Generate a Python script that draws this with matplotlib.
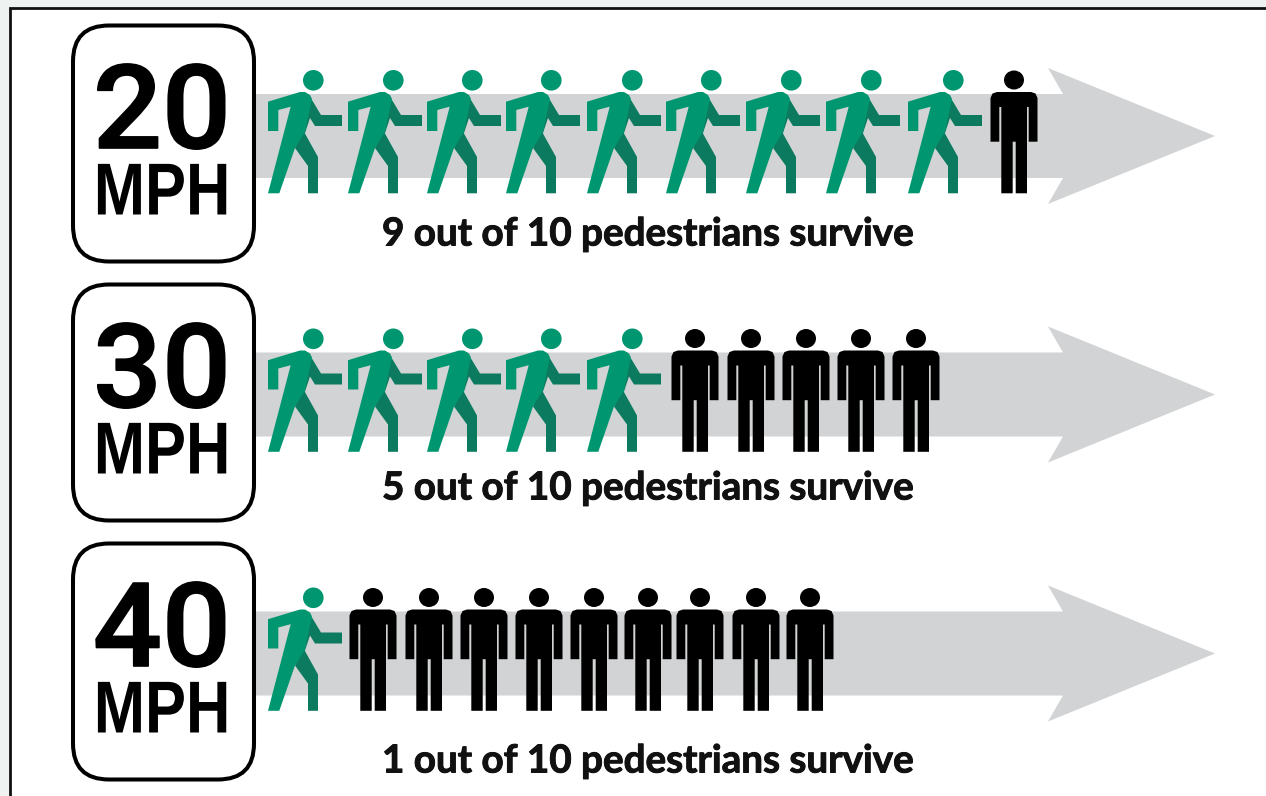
import matplotlib
matplotlib.use("Agg")
import matplotlib.pyplot as plt
import matplotlib.patheffects as pe
from matplotlib.patches import Circle, Ellipse, FancyBboxPatch, Polygon, Rectangle
from matplotlib.transforms import Affine2D

speeds = ["20", "30", "40"]
captions = ["9 out of 10 pedestrians survive",
            "5 out of 10 pedestrians survive",
            "1 out of 10 pedestrians survive"]
survivors = [9, 5, 1]

# left edge of each walker, centre of each standing figure (pixels)
walker_x = [[268, 348, 427, 506, 587, 666, 746, 826, 908],
            [268, 348, 427, 506, 587],
            [268]]
standing_x = [[1014],
              [695, 751, 806, 861, 916],
              [373, 429, 484, 539, 594, 648, 700, 756, 810]]
row_y = [136, 394.5, 653.5]
sign_top = [25.5, 284.5, 543.5]
caption_y = [234, 488, 761]

LIGHT = "#00966f"
DARK = "#0b7a5e"
GREY = "#d1d3d4"

# icon outlines, offsets from icon left / row centre
walker_light = [(0, -34.3), (32, -44), (37, -44), (42, -41), (44, -37), (37, -4), (27, 12),
                (11.3, 57.3), (0, 57.3), (22.7, -29.3), (10.3, -26), (10.3, -5), (0, -5)]
walker_dark_arm = [(38, -36), (44, -36), (53, -21), (74, -21), (74, -10), (47, -10),
                   (42, -18), (36, 0)]
walker_dark_leg = [(35, -6), (50, 21), (50, 57.3), (40, 57.3), (40, 30), (27, 12)]
standing_body = [(-17, -44), (17, -44), (21.5, -42.5), (23.5, -38), (23.5, 5.7), (14.7, 5.7),
                 (14.7, -29), (13, -29), (13, 57.3), (1.7, 57.3), (1.7, 5.7), (-1.3, 5.7),
                 (-1.3, 57.3), (-12.7, 57.3), (-12.7, -29), (-14.7, -29), (-14.7, 5.7),
                 (-23.5, 5.7), (-23.5, -38), (-21.5, -42.5)]


class Squeeze(pe.AbstractPathEffect):
    # the sign lettering is narrower than any installed face
    def __init__(self, sx, cx, lw=0):
        super().__init__()
        self.sx = sx
        self.cx = cx
        self.lw = lw

    def draw_path(self, renderer, gc, tpath, affine, rgbFace=None):
        t = affine + Affine2D().translate(-self.cx, 0).scale(self.sx, 1).translate(self.cx, 0)
        gc.set_linewidth(self.lw)
        gc.set_foreground("black")
        renderer.draw_path(gc, tpath, t, rgbFace)


def draw_arrow(ax, y):
    pts = [(255, y - 42), (1063, y - 42), (1048, y - 68), (1215, y), (1048, y + 68),
           (1063, y + 42), (255, y + 42)]
    ax.add_patch(Polygon(pts, closed=True, fc=GREY, ec="none"))


def draw_walker(ax, x, y):
    for shape, col in [(walker_dark_arm, DARK), (walker_dark_leg, DARK), (walker_light, LIGHT)]:
        ax.add_patch(Polygon([(x + a, y + b) for a, b in shape], closed=True, fc=col, ec="none"))
    ax.add_patch(Circle((x + 45.3, y - 55.7), 10.3, fc=LIGHT, ec="none"))


def draw_standing(ax, x, y):
    ax.add_patch(Polygon([(x + a, y + b) for a, b in standing_body],
                         closed=True, fc="black", ec="none"))
    ax.add_patch(Ellipse((x, y - 56), 20, 19, fc="black", ec="none"))


def draw_sign(ax, top, label):
    ax.add_patch(FancyBboxPatch((73 + 36, top + 36), 181 - 72, 236 - 72,
                                boxstyle="round,pad=36,rounding_size=36",
                                fc="white", ec="black", lw=2.9))
    ax.text(162, top + 122.5, label, ha="center", va="baseline", fontsize=84,
            family="Roboto", fontweight="medium", color="black",
            path_effects=[Squeeze(1.04, 162, lw=1.2)])
    ax.text(162, top + 189, "MPH", ha="center", va="baseline", fontsize=53,
            family="Liberation Sans", fontweight="bold", color="black",
            path_effects=[Squeeze(0.835, 162)])


def main():
    fig = plt.figure(figsize=(12.66, 7.96), dpi=100, facecolor="#eef3f1")
    ax = fig.add_axes([0, 0, 1, 1])
    ax.set_xlim(0, 1266)
    ax.set_ylim(796, 0)
    ax.axis("off")

    ax.add_patch(Rectangle((9.7, 8), 1300, 850, fc="white", ec="#111111", lw=2))

    for i in range(3):
        y = row_y[i]
        draw_arrow(ax, y)
        for x in walker_x[i]:
            draw_walker(ax, x, y)
        for x in standing_x[i]:
            draw_standing(ax, x, y)
        draw_sign(ax, sign_top[i], speeds[i])
        ax.text(648, caption_y[i], captions[i], ha="center", va="center", fontsize=27.8,
                family="Lato", fontweight="bold", color="#111111",
                path_effects=[pe.withStroke(linewidth=0.7, foreground="#111111")])

    fig.savefig("out.png", dpi=100, facecolor=fig.get_facecolor())


if __name__ == "__main__":
    main()
